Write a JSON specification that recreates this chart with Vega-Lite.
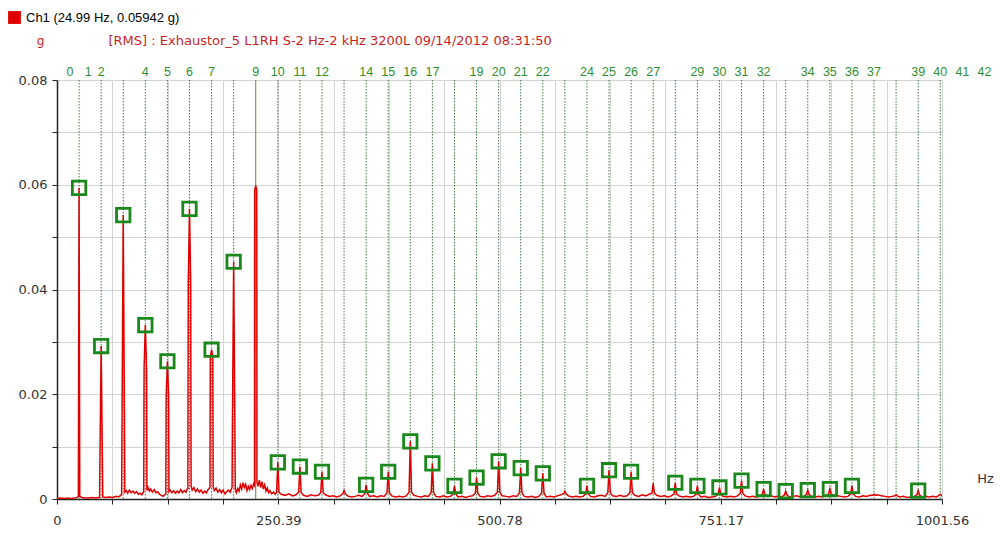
{
"$schema":"https://vega.github.io/schema/vega-lite/v6.json",
"autosize":{"type":"none"},
"padding":{"left":57,"top":80,"right":58,"bottom":46},
"width":885,"height":419,
"background":"#ffffff",
"config":{"view":{"stroke":null},"font":"DejaVu Sans","axis":{"labelFont":"DejaVu Sans","titleFont":"DejaVu Sans"},"legend":{"labelFont":"Liberation Sans"}},
"datasets":{
"spec":[
{"f":0,"a":0.0001},{"f":4,"a":0.0002},{"f":8,"a":0.0001},{"f":12,"a":0.0002},{"f":16,"a":0.0001},{"f":20,"a":0.0002},{"f":23,"a":0.0003},
{"f":24.19,"a":0.0005},{"f":24.99,"a":0.0594},{"f":25.79,"a":0.0005},
{"f":28,"a":0.0003},{"f":32,"a":0.0002},{"f":36,"a":0.0002},{"f":40,"a":0.0003},{"f":44,"a":0.0002},{"f":47,"a":0.0003},
{"f":48.18,"a":0.0003},{"f":48.58,"a":0.0075},{"f":49.98,"a":0.0292},{"f":51.38,"a":0.0075},{"f":51.78,"a":0.0004},
{"f":55,"a":0.0003},{"f":59,"a":0.0004},{"f":63,"a":0.0003},{"f":67,"a":0.0005},{"f":70,"a":0.0004},{"f":72,"a":0.0007},
{"f":73.17,"a":0.0009},{"f":73.57,"a":0.0142},{"f":74.97,"a":0.0542},{"f":76.37,"a":0.0142},{"f":76.77,"a":0.0013},
{"f":78.5,"a":0.0016},{"f":80,"a":0.0011},{"f":82,"a":0.0017},{"f":84,"a":0.0012},{"f":86,"a":0.0015},{"f":88,"a":0.0011},{"f":90,"a":0.0014},{"f":92,"a":0.0009},{"f":94,"a":0.0011},{"f":96,"a":0.0008},{"f":97.3,"a":0.0012},
{"f":98.16,"a":0.0014},{"f":98.56,"a":0.025},{"f":99.96,"a":0.0332},{"f":101.36,"a":0.025},{"f":101.76,"a":0.0016},
{"f":103,"a":0.0022},{"f":104.5,"a":0.0015},{"f":106,"a":0.0019},{"f":108,"a":0.0013},{"f":110,"a":0.0018},{"f":112,"a":0.0012},{"f":114,"a":0.0014},{"f":116,"a":0.0009},{"f":118,"a":0.0007},{"f":120,"a":0.0005},{"f":122,"a":0.0008},
{"f":123.15,"a":0.001},{"f":123.55,"a":0.0195},{"f":124.95,"a":0.0263},{"f":126.35,"a":0.0195},{"f":126.75,"a":0.0014},
{"f":128,"a":0.0017},{"f":130,"a":0.0012},{"f":132,"a":0.0016},{"f":134,"a":0.0011},{"f":136,"a":0.0015},{"f":138,"a":0.0012},{"f":140,"a":0.0018},{"f":142,"a":0.0012},{"f":144,"a":0.0016},{"f":146,"a":0.0013},{"f":147.3,"a":0.0019},
{"f":148.14,"a":0.002},{"f":148.54,"a":0.041},{"f":149.94,"a":0.0554},{"f":151.34,"a":0.041},{"f":151.74,"a":0.0025},
{"f":153,"a":0.0017},{"f":155,"a":0.0022},{"f":157,"a":0.0014},{"f":159,"a":0.0019},{"f":161,"a":0.0013},{"f":163,"a":0.0017},{"f":165,"a":0.0011},{"f":167,"a":0.0015},{"f":169,"a":0.0012},{"f":171,"a":0.0018},{"f":172.5,"a":0.0021},
{"f":173.13,"a":0.0022},{"f":173.53,"a":0.027},{"f":174.93,"a":0.0285},{"f":176.33,"a":0.027},{"f":176.73,"a":0.0023},
{"f":178,"a":0.0016},{"f":180,"a":0.0021},{"f":182,"a":0.0013},{"f":184,"a":0.0018},{"f":186,"a":0.0012},{"f":188,"a":0.0017},{"f":190,"a":0.001},{"f":192,"a":0.0014},{"f":194,"a":0.0017},{"f":196,"a":0.0013},{"f":197.5,"a":0.002},
{"f":198.12,"a":0.0022},{"f":198.52,"a":0.014},{"f":199.92,"a":0.0453},{"f":201.32,"a":0.014},{"f":201.72,"a":0.0019},
{"f":203,"a":0.0012},{"f":204.5,"a":0.002},{"f":206,"a":0.0015},{"f":207.5,"a":0.0027},{"f":209,"a":0.0019},{"f":210.5,"a":0.0031},{"f":212,"a":0.0022},{"f":213.5,"a":0.0028},{"f":215,"a":0.0016},{"f":216.5,"a":0.0024},{"f":218,"a":0.0018},{"f":219.5,"a":0.0026},{"f":221,"a":0.002},{"f":222.5,"a":0.0029},
{"f":223.51,"a":0.0026},{"f":223.71,"a":0.059},{"f":224.91,"a":0.0598},{"f":226.11,"a":0.059},{"f":226.31,"a":0.0032},
{"f":227.5,"a":0.0024},{"f":229,"a":0.0036},{"f":230.5,"a":0.0022},{"f":232,"a":0.0033},{"f":233.5,"a":0.0019},{"f":235,"a":0.0027},{"f":236.5,"a":0.0015},{"f":238,"a":0.0021},{"f":239.5,"a":0.0012},{"f":241,"a":0.0016},{"f":243,"a":0.001},{"f":245,"a":0.0013},{"f":247,"a":0.0009},
{"f":248.5,"a":0.0013},{"f":249.9,"a":0.007},{"f":251.3,"a":0.0013},{"f":253.9,"a":0.0009},{"f":258.4,"a":0.0007},{"f":262.4,"a":0.001},{"f":266.4,"a":0.0006},{"f":270.4,"a":0.0008},
{"f":273.49,"a":0.0013},{"f":274.89,"a":0.0062},{"f":276.29,"a":0.0013},{"f":278.89,"a":0.0007},{"f":283.39,"a":0.0005},{"f":287.39,"a":0.0008},{"f":291.39,"a":0.0006},{"f":295.39,"a":0.0007},
{"f":298.48,"a":0.0012},{"f":299.88,"a":0.0052},{"f":301.28,"a":0.0012},{"f":303.88,"a":0.0008},{"f":308.38,"a":0.0005},{"f":312.38,"a":0.0006},{"f":316.38,"a":0.0004},{"f":320.38,"a":0.0006},
{"f":323.47,"a":0.001},{"f":324.87,"a":0.0016},{"f":326.27,"a":0.001},{"f":328.87,"a":0.0006},{"f":333.37,"a":0.0004},{"f":337.37,"a":0.0005},{"f":341.37,"a":0.0007},{"f":345.37,"a":0.0005},
{"f":348.46,"a":0.0011},{"f":349.86,"a":0.0027},{"f":351.26,"a":0.0011},{"f":353.86,"a":0.0005},{"f":358.36,"a":0.0006},{"f":362.36,"a":0.0004},{"f":366.36,"a":0.0006},{"f":370.36,"a":0.0005},
{"f":373.45,"a":0.0012},{"f":374.85,"a":0.0052},{"f":376.25,"a":0.0012},{"f":378.85,"a":0.0006},{"f":383.35,"a":0.0004},{"f":387.35,"a":0.0005},{"f":391.35,"a":0.0004},{"f":395.35,"a":0.0006},
{"f":398.44,"a":0.0013},{"f":399.84,"a":0.011},{"f":401.24,"a":0.0013},{"f":403.84,"a":0.0007},{"f":408.34,"a":0.0005},{"f":412.34,"a":0.0004},{"f":416.34,"a":0.0006},{"f":420.34,"a":0.0005},
{"f":423.43,"a":0.0012},{"f":424.83,"a":0.0068},{"f":426.23,"a":0.0012},{"f":428.83,"a":0.0005},{"f":433.33,"a":0.0004},{"f":437.33,"a":0.0006},{"f":441.33,"a":0.0004},{"f":445.33,"a":0.0005},
{"f":448.42,"a":0.001},{"f":449.82,"a":0.0025},{"f":451.22,"a":0.001},{"f":453.82,"a":0.0004},{"f":458.32,"a":0.0005},{"f":462.32,"a":0.0003},{"f":466.32,"a":0.0005},{"f":470.32,"a":0.0006},
{"f":473.41,"a":0.0011},{"f":474.81,"a":0.0041},{"f":476.21,"a":0.0011},{"f":478.81,"a":0.0005},{"f":483.31,"a":0.0004},{"f":487.31,"a":0.0006},{"f":491.31,"a":0.0005},{"f":495.31,"a":0.0007},
{"f":498.4,"a":0.0013},{"f":499.8,"a":0.0072},{"f":501.2,"a":0.0013},{"f":503.8,"a":0.0006},{"f":508.3,"a":0.0005},{"f":512.3,"a":0.0004},{"f":516.3,"a":0.0006},{"f":520.3,"a":0.0005},
{"f":523.39,"a":0.0012},{"f":524.79,"a":0.0059},{"f":526.19,"a":0.0012},{"f":528.79,"a":0.0005},{"f":533.29,"a":0.0004},{"f":537.29,"a":0.0005},{"f":541.29,"a":0.0003},{"f":545.29,"a":0.0005},
{"f":548.38,"a":0.0011},{"f":549.78,"a":0.0049},{"f":551.18,"a":0.0011},{"f":553.78,"a":0.0004},{"f":558.28,"a":0.0005},{"f":562.28,"a":0.0004},{"f":566.28,"a":0.0006},{"f":570.28,"a":0.0008},
{"f":573.37,"a":0.001},{"f":574.77,"a":0.0015},{"f":576.17,"a":0.001},{"f":578.77,"a":0.0006},{"f":583.27,"a":0.0004},{"f":587.27,"a":0.0005},{"f":591.27,"a":0.0004},{"f":595.27,"a":0.0005},
{"f":598.36,"a":0.001},{"f":599.76,"a":0.0025},{"f":601.16,"a":0.001},{"f":603.76,"a":0.0005},{"f":608.26,"a":0.0004},{"f":612.26,"a":0.0006},{"f":616.26,"a":0.0007},{"f":620.26,"a":0.0005},
{"f":623.35,"a":0.0012},{"f":624.75,"a":0.0055},{"f":626.15,"a":0.0012},{"f":628.75,"a":0.0006},{"f":633.25,"a":0.0005},{"f":637.25,"a":0.0007},{"f":641.25,"a":0.0005},{"f":645.25,"a":0.0006},
{"f":648.34,"a":0.0012},{"f":649.74,"a":0.0052},{"f":651.14,"a":0.0012},{"f":653.74,"a":0.0007},{"f":658.24,"a":0.0005},{"f":662.24,"a":0.0008},{"f":666.24,"a":0.0006},{"f":670.24,"a":0.0009},
{"f":673.33,"a":0.0011},{"f":674.73,"a":0.003},{"f":676.13,"a":0.0011},{"f":678.73,"a":0.0007},{"f":683.23,"a":0.0005},{"f":687.23,"a":0.0006},{"f":691.23,"a":0.0004},{"f":695.23,"a":0.0006},
{"f":698.32,"a":0.001},{"f":699.72,"a":0.0031},{"f":701.12,"a":0.001},{"f":703.72,"a":0.0006},{"f":708.22,"a":0.0004},{"f":712.22,"a":0.0005},{"f":716.22,"a":0.0004},{"f":720.22,"a":0.0005},
{"f":723.31,"a":0.0009},{"f":724.71,"a":0.0025},{"f":726.11,"a":0.0009},{"f":728.71,"a":0.0004},{"f":733.21,"a":0.0005},{"f":737.21,"a":0.0003},{"f":741.21,"a":0.0004},{"f":745.21,"a":0.0005},
{"f":748.3,"a":0.0009},{"f":749.7,"a":0.0022},{"f":751.1,"a":0.0009},{"f":753.7,"a":0.0005},{"f":758.2,"a":0.0004},{"f":762.2,"a":0.0005},{"f":766.2,"a":0.0004},{"f":770.2,"a":0.0006},
{"f":773.29,"a":0.0011},{"f":774.69,"a":0.0035},{"f":776.09,"a":0.0011},{"f":778.69,"a":0.0006},{"f":783.19,"a":0.0004},{"f":787.19,"a":0.0005},{"f":791.19,"a":0.0004},{"f":795.19,"a":0.0005},
{"f":798.28,"a":0.0009},{"f":799.68,"a":0.0019},{"f":801.08,"a":0.0009},{"f":803.68,"a":0.0005},{"f":808.18,"a":0.0006},{"f":812.18,"a":0.0004},{"f":816.18,"a":0.0005},{"f":820.18,"a":0.0004},
{"f":823.27,"a":0.0008},{"f":824.67,"a":0.0015},{"f":826.07,"a":0.0008},{"f":828.67,"a":0.0004},{"f":833.17,"a":0.0005},{"f":837.17,"a":0.0006},{"f":841.17,"a":0.0004},{"f":845.17,"a":0.0005},
{"f":848.26,"a":0.0009},{"f":849.66,"a":0.0017},{"f":851.06,"a":0.0009},{"f":853.66,"a":0.0005},{"f":858.16,"a":0.0004},{"f":862.16,"a":0.0005},{"f":866.16,"a":0.0004},{"f":870.16,"a":0.0006},
{"f":873.25,"a":0.001},{"f":874.65,"a":0.0019},{"f":876.05,"a":0.001},{"f":878.65,"a":0.0007},{"f":883.15,"a":0.0006},{"f":887.15,"a":0.0005},{"f":891.15,"a":0.0004},{"f":895.15,"a":0.0005},
{"f":898.24,"a":0.001},{"f":899.64,"a":0.0025},{"f":901.04,"a":0.001},{"f":903.64,"a":0.0005},{"f":908.14,"a":0.0004},{"f":912.14,"a":0.0006},{"f":916.14,"a":0.0005},{"f":920.14,"a":0.0007},
{"f":923.23,"a":0.0007},{"f":924.63,"a":0.0009},{"f":926.03,"a":0.0007},{"f":928.63,"a":0.0008},{"f":933.13,"a":0.0006},{"f":937.13,"a":0.0005},{"f":941.13,"a":0.0004},{"f":945.13,"a":0.0005},
{"f":948.22,"a":0.0006},{"f":949.62,"a":0.0008},{"f":951.02,"a":0.0006},{"f":953.62,"a":0.0004},{"f":958.12,"a":0.0005},{"f":962.12,"a":0.0003},{"f":966.12,"a":0.0004},{"f":970.12,"a":0.0005},
{"f":973.21,"a":0.0008},{"f":974.61,"a":0.0016},{"f":976.01,"a":0.0008},{"f":978.61,"a":0.0004},{"f":983.11,"a":0.0005},{"f":987.11,"a":0.0004},{"f":991.11,"a":0.0005},{"f":995.11,"a":0.0004},
{"f":998.2,"a":0.0007},{"f":999.6,"a":0.0009},{"f":1001.0,"a":0.0007},{"f":1001.56,"a":0.0005}
],
"markers":[
{"h":1,"f":24.99,"a":0.0594},{"h":2,"f":49.98,"a":0.0292},{"h":3,"f":74.97,"a":0.0542},{"h":4,"f":99.96,"a":0.0332},{"h":5,"f":124.95,"a":0.0263},{"h":6,"f":149.94,"a":0.0554},{"h":7,"f":174.93,"a":0.0285},{"h":8,"f":199.92,"a":0.0453},
{"h":10,"f":249.9,"a":0.007},{"h":11,"f":274.89,"a":0.0062},{"h":12,"f":299.88,"a":0.0052},{"h":14,"f":349.86,"a":0.0027},{"h":15,"f":374.85,"a":0.0052},{"h":16,"f":399.84,"a":0.011},{"h":17,"f":424.83,"a":0.0068},{"h":18,"f":449.82,"a":0.0025},{"h":19,"f":474.81,"a":0.0041},{"h":20,"f":499.8,"a":0.0072},{"h":21,"f":524.79,"a":0.0059},{"h":22,"f":549.78,"a":0.0049},
{"h":24,"f":599.76,"a":0.0025},{"h":25,"f":624.75,"a":0.0055},{"h":26,"f":649.74,"a":0.0052},{"h":28,"f":699.72,"a":0.0031},{"h":29,"f":724.71,"a":0.0025},{"h":30,"f":749.7,"a":0.0022},{"h":31,"f":774.69,"a":0.0035},{"h":32,"f":799.68,"a":0.0019},{"h":33,"f":824.67,"a":0.0015},{"h":34,"f":849.66,"a":0.0017},{"h":35,"f":874.65,"a":0.0019},{"h":36,"f":899.64,"a":0.0025},{"h":39,"f":974.61,"a":0.0016}
],
"lines":[
{"h":1,"f":24.99,"k":"harmonic"},{"h":2,"f":49.98,"k":"harmonic"},{"h":3,"f":74.97,"k":"harmonic"},{"h":4,"f":99.96,"k":"harmonic"},{"h":5,"f":124.95,"k":"harmonic"},{"h":6,"f":149.94,"k":"harmonic"},{"h":7,"f":174.93,"k":"harmonic"},{"h":8,"f":199.92,"k":"harmonic"},{"h":9,"f":224.91,"k":"cursor"},{"h":10,"f":249.9,"k":"harmonic"},
{"h":11,"f":274.89,"k":"harmonic"},{"h":12,"f":299.88,"k":"harmonic"},{"h":13,"f":324.87,"k":"harmonic"},{"h":14,"f":349.86,"k":"harmonic"},{"h":15,"f":374.85,"k":"harmonic"},{"h":16,"f":399.84,"k":"harmonic"},{"h":17,"f":424.83,"k":"harmonic"},{"h":18,"f":449.82,"k":"harmonic"},{"h":19,"f":474.81,"k":"harmonic"},{"h":20,"f":499.8,"k":"harmonic"},
{"h":21,"f":524.79,"k":"harmonic"},{"h":22,"f":549.78,"k":"harmonic"},{"h":23,"f":574.77,"k":"harmonic"},{"h":24,"f":599.76,"k":"harmonic"},{"h":25,"f":624.75,"k":"harmonic"},{"h":26,"f":649.74,"k":"harmonic"},{"h":27,"f":674.73,"k":"harmonic"},{"h":28,"f":699.72,"k":"harmonic"},{"h":29,"f":724.71,"k":"harmonic"},{"h":30,"f":749.7,"k":"harmonic"},
{"h":31,"f":774.69,"k":"harmonic"},{"h":32,"f":799.68,"k":"harmonic"},{"h":33,"f":824.67,"k":"harmonic"},{"h":34,"f":849.66,"k":"harmonic"},{"h":35,"f":874.65,"k":"harmonic"},{"h":36,"f":899.64,"k":"harmonic"},{"h":37,"f":924.63,"k":"harmonic"},{"h":38,"f":949.62,"k":"harmonic"},{"h":39,"f":974.61,"k":"harmonic"},{"h":40,"f":999.6,"k":"harmonic"}
],
"labels":[
{"t":"0","f":14.7},{"t":"1","f":35.2},{"t":"2","f":49.98},{"t":"4","f":99.96},{"t":"5","f":124.95},{"t":"6","f":149.94},{"t":"7","f":174.93},{"t":"9","f":224.91},{"t":"10","f":249.9},{"t":"11","f":274.89},{"t":"12","f":299.88},
{"t":"14","f":349.86},{"t":"15","f":374.85},{"t":"16","f":399.84},{"t":"17","f":424.83},{"t":"19","f":474.81},{"t":"20","f":499.8},{"t":"21","f":524.79},{"t":"22","f":549.78},
{"t":"24","f":599.76},{"t":"25","f":624.75},{"t":"26","f":649.74},{"t":"27","f":674.73},{"t":"29","f":724.71},{"t":"30","f":749.7},{"t":"31","f":774.69},{"t":"32","f":799.68},
{"t":"34","f":849.66},{"t":"35","f":874.65},{"t":"36","f":899.64},{"t":"37","f":924.63},{"t":"39","f":974.61},{"t":"40","f":999.6},{"t":"41","f":1024.59},{"t":"42","f":1049.58}
]
},
"layer":[
{
"data":{"name":"lines"},
"mark":{"type":"rule","strokeWidth":1},
"encoding":{
"x":{"field":"f","type":"quantitative","scale":{"domain":[0,1001.56],"nice":false,"zero":false},"axis":null},
"stroke":{"field":"k","type":"nominal","scale":{"domain":["harmonic","cursor"],"range":["#3f7a3f","#867434"]},"legend":null},
"strokeDash":{"field":"k","type":"nominal","scale":{"domain":["harmonic","cursor"],"range":[[1.5,1.5],[1,0]]},"legend":null}
}
},
{
"data":{"name":"spec"},
"mark":{"type":"line","strokeWidth":1.5,"clip":true},
"encoding":{
"x":{"field":"f","type":"quantitative","scale":{"domain":[0,1001.56],"nice":false,"zero":false},
"axis":{"values":[0,62.5975,125.195,187.7925,250.39,312.9875,375.585,438.1825,500.78,563.3775,625.975,688.5725,751.17,813.7675,876.365,938.9625,1001.56],
"labelExpr":"abs(datum.value/250.39 - round(datum.value/250.39)) < 0.01 ? (datum.value == 0 ? '0' : format(datum.value, '.2f')) : ''",
"grid":true,"gridColor":"#d3d3d3","gridWidth":1,"tickSize":5,"tickColor":"#222","domainColor":"#222","domainWidth":1.5,"labelPadding":10,"labelFontSize":13,"labelColor":"#333","labelOverlap":false,"labelFlush":false,
"title":"Hz","titleX":928,"titleY":-21,"titleAlign":"center","titleBaseline":"middle","titleFontWeight":"normal","titleFontSize":13,"titleColor":"#333"}},
"y":{"field":"a","type":"quantitative","scale":{"domain":[0,0.08],"nice":false,"zero":true},
"axis":{"values":[0,0.005,0.01,0.015,0.02,0.025,0.03,0.035,0.04,0.045,0.05,0.055,0.06,0.065,0.07,0.075,0.08],
"labelExpr":"abs(datum.value*50 - round(datum.value*50)) < 0.01 ? (datum.value == 0 ? '0' : format(datum.value, '.2f')) : ''",
"grid":true,"gridColor":"#d3d3d3","gridWidth":1,"tickSize":5,"tickColor":"#222","domainColor":"#222","domainWidth":1.5,"labelPadding":5,"labelFontSize":13,"labelColor":"#333","labelOverlap":false,"labelFlush":false,
"title":"g","titleX":-17,"titleY":-40,"titleAngle":0,"titleAlign":"center","titleBaseline":"middle","titleColor":"#cc1f1f","titleFontWeight":"normal","titleFontSize":12}},
"color":{"datum":"Ch1 (24.99 Hz, 0.05942 g)","scale":{"range":["#e00000"]},
"legend":{"orient":"none","legendX":-49,"legendY":-69,"title":null,"symbolType":"square","symbolSize":165,"labelFontSize":13,"labelColor":"#000","labelOffset":5,"padding":0,
"encode":{"symbols":{"update":{"fill":{"value":"#e00000"},"stroke":{"value":"#e00000"},"strokeWidth":{"value":0}}}}}}
}
},
{
"data":{"name":"markers"},
"mark":{"type":"point","shape":"square","filled":false,"stroke":"#1b881b","strokeWidth":2.8,"size":180,"opacity":1},
"encoding":{
"x":{"field":"f","type":"quantitative","scale":{"domain":[0,1001.56],"nice":false,"zero":false},"axis":null},
"y":{"field":"a","type":"quantitative","scale":{"domain":[0,0.08],"nice":false,"zero":true}}
}
},
{
"data":{"name":"labels"},
"mark":{"type":"text","baseline":"bottom","align":"center","dy":-1,"fontSize":12.5,"color":"#2f8f2f","font":"Liberation Sans"},
"encoding":{
"x":{"field":"f","type":"quantitative","scale":{"domain":[0,1001.56],"nice":false,"zero":false},
"axis":{"orient":"top","labels":false,"ticks":false,"domain":false,"grid":false,"title":"[RMS] : Exhaustor_5 L1RH S-2 Hz-2 kHz 3200L 09/14/2012 08:31:50","titleX":51,"titleY":-40,"titleAlign":"left","titleBaseline":"middle","titleColor":"#cc1f1f","titleFontWeight":"normal","titleFontSize":13,"titleFont":"DejaVu Sans"}},
"y":{"datum":0.08,"scale":{"domain":[0,0.08],"nice":false,"zero":true}},
"text":{"field":"t","type":"nominal"}
}
}
],
"resolve":{"axis":{"x":"independent"}}
}
